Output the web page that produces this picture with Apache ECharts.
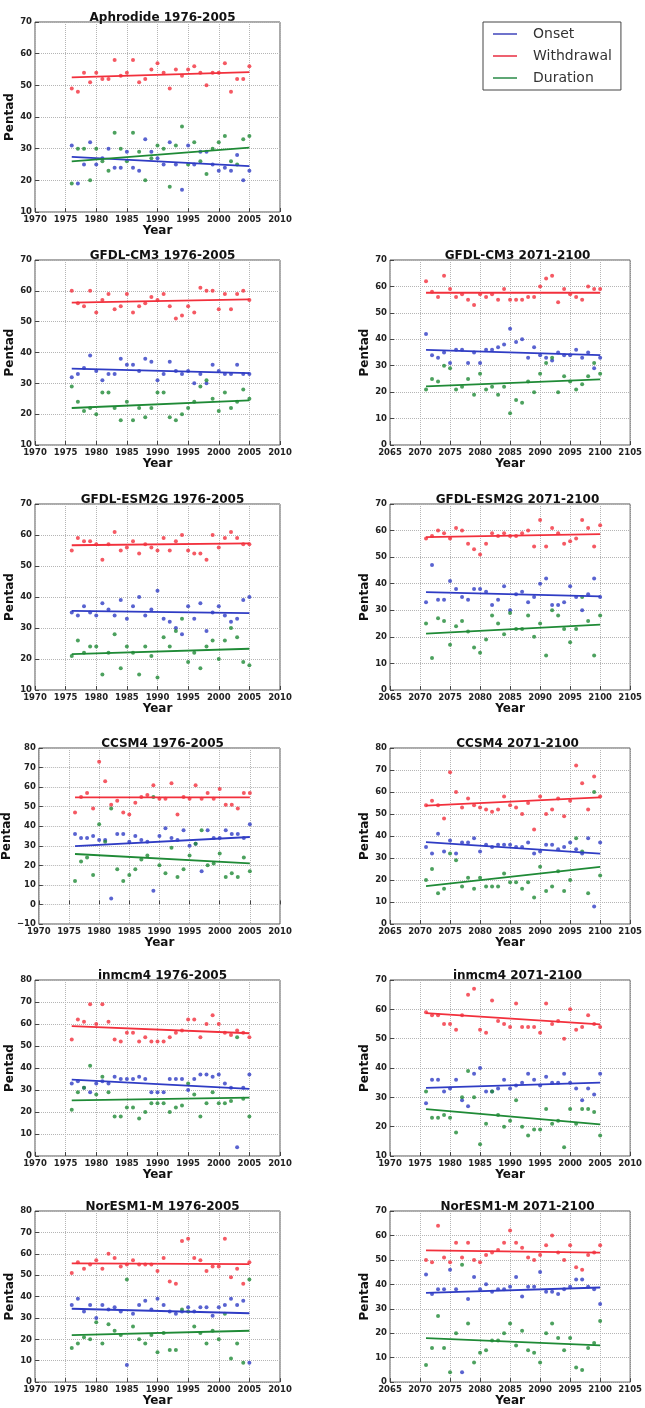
<!DOCTYPE html>
<html>
<head>
<meta charset="utf-8">
<script src="https://cdn.jsdelivr.net/npm/echarts@6/dist/echarts.min.js"></script>
<style>
  html, body { margin: 0; padding: 0; background: #fff; }
  #chart { width: 645px; height: 1408px; }
</style>
</head>
<body>
<div id="chart"></div>
<script>
const histYears = [1976, 1977, 1978, 1979, 1980, 1981, 1982, 1983, 1984, 1985, 1986, 1987, 1988, 1989, 1990,
  1991, 1992, 1993, 1994, 1995, 1996, 1997, 1998, 1999, 2000, 2001, 2002, 2003, 2004, 2005]
const futYears = [2071, 2072, 2073, 2074, 2075, 2076, 2077, 2078, 2079, 2080, 2081, 2082, 2083, 2084, 2085,
  2086, 2087, 2088, 2089, 2090, 2091, 2092, 2093, 2094, 2095, 2096, 2097, 2098, 2099, 2100]

// Aphrodide 1976-2005
const aphOnset = [31, 19, 25, 32, 25, 27, 30, 24, 24, 29, 24, 23, 33, 29, 27, 25, 32, 25, 17, 31, 25, 29, 29, 25, 23, 24, 23, 28, 20, 23]
const aphWithdrawal = [49, 48, 54, 51, 54, 52, 52, 58, 53, 54, 58, 51, 52, 55, 57, 54, 49, 55, 53, 55, 56, 54, 50, 54, 54, 57, 48, 52, 52, 56]
const aphDuration = [19, 30, 30, 20, 30, 26, 23, 35, 30, 26, 35, 29, 20, 27, 31, 30, 18, 31, 37, 25, 32, 26, 22, 30, 32, 34, 26, 25, 33, 34]
const aphTrend = [[27.4, 24.5], [52.5, 54.2], [26.0, 30.3]]

// GFDL-CM3 1976-2005
const cm3hOnset = [32, 33, 35, 39, 34, 31, 33, 33, 38, 36, 36, 34, 38, 37, 31, 33, 37, 34, 33, 34, 30, 33, 30, 36, 34, 33, 33, 36, 33, 33]
const cm3hWithdrawal = [60, 56, 55, 60, 53, 57, 59, 54, 55, 59, 53, 55, 56, 58, 57, 59, 55, 51, 52, 55, 53, 61, 60, 60, 54, 59, 54, 59, 60, 57]
const cm3hDuration = [29, 24, 21, 22, 20, 27, 27, 22, 18, 24, 18, 22, 19, 22, 27, 27, 19, 18, 20, 22, 24, 29, 31, 25, 21, 27, 22, 24, 28, 25]
const cm3hTrend = [[34.8, 33.3], [56.2, 57.2], [22.0, 24.5]]

// GFDL-CM3 2071-2100
const cm3fOnset = [42, 34, 33, 35, 31, 36, 36, 31, 35, 31, 36, 36, 37, 38, 44, 39, 40, 33, 37, 34, 33, 32, 35, 34, 34, 36, 33, 35, 29, 33]
const cm3fWithdrawal = [62, 58, 56, 64, 59, 56, 57, 55, 53, 57, 56, 57, 55, 59, 55, 55, 55, 56, 56, 60, 63, 64, 54, 59, 57, 56, 55, 60, 59, 59]
const cm3fDuration = [21, 25, 24, 30, 29, 21, 22, 25, 19, 27, 21, 22, 19, 22, 12, 17, 16, 24, 20, 27, 31, 33, 20, 26, 24, 21, 23, 26, 31, 27]
const cm3fTrend = [[36.0, 34.0], [57.6, 57.6], [22.2, 24.8]]

// GFDL-ESM2G 1976-2005
const esmhOnset = [35, 34, 37, 35, 34, 38, 36, 34, 39, 33, 37, 40, 34, 36, 42, 33, 32, 30, 28, 37, 33, 38, 29, 35, 37, 34, 32, 33, 39, 40]
const esmhWithdrawal = [55, 59, 58, 58, 57, 52, 57, 61, 55, 56, 58, 54, 57, 56, 55, 59, 55, 58, 60, 55, 54, 54, 52, 60, 56, 59, 61, 59, 57, 57]
const esmhDuration = [21, 26, 22, 24, 24, 15, 22, 28, 17, 24, 22, 15, 24, 21, 14, 27, 24, 29, 33, 19, 22, 17, 24, 26, 20, 26, 30, 27, 19, 18]
const esmhTrend = [[35.5, 34.8], [56.7, 57.3], [21.6, 23.3]]

// GFDL-ESM2G 2071-2100
const esmfOnset = [33, 47, 34, 34, 41, 38, 35, 34, 38, 38, 37, 32, 34, 39, 30, 36, 37, 33, 35, 40, 42, 32, 32, 33, 39, 35, 30, 36, 42, 35]
const esmfWithdrawal = [57, 58, 60, 59, 57, 61, 60, 55, 53, 51, 55, 59, 58, 59, 58, 58, 59, 60, 54, 64, 54, 61, 59, 55, 56, 57, 64, 61, 54, 62]
const esmfDuration = [25, 12, 27, 26, 17, 24, 26, 22, 16, 14, 19, 28, 25, 21, 29, 23, 23, 28, 20, 25, 13, 30, 28, 23, 18, 23, 35, 26, 13, 28]
const esmfTrend = [[36.8, 35.2], [57.5, 58.7], [21.2, 24.6]]

// CCSM4 1976-2005
const ccsmhOnset = [36, 34, 34, 35, 33, 33, 3, 36, 36, 32, 35, 33, 32, 7, 35, 39, 34, 33, 38, 30, 31, 17, 38, 34, 34, 38, 36, 36, 34, 41]
const ccsmhWithdrawal = [47, 55, 57, 49, 73, 63, 51, 53, 47, 46, 52, 55, 56, 61, 54, 54, 62, 46, 55, 54, 61, 54, 57, 54, 59, 51, 51, 49, 57, 57]
const ccsmhDuration = [12, 22, 24, 15, 41, 32, 49, 18, 12, 15, 18, 23, 25, 55, 20, 16, 29, 14, 18, 25, 31, 38, 20, 21, 26, 14, 16, 14, 24, 17]
const ccsmhTrend = [[29.8, 34.5], [54.8, 54.8], [25.8, 21.0]]

// CCSM4 2071-2100
const ccsmfOnset = [35, 32, 41, 33, 38, 32, 37, 37, 39, 33, 36, 35, 36, 36, 36, 35, 35, 37, 32, 33, 36, 36, 34, 35, 37, 34, 32, 39, 8, 37]
const ccsmfWithdrawal = [54, 56, 54, 48, 69, 60, 53, 57, 54, 53, 52, 51, 52, 58, 54, 53, 50, 55, 43, 58, 50, 52, 57, 49, 56, 72, 64, 52, 67, 58]
const ccsmfDuration = [20, 25, 14, 16, 32, 29, 17, 21, 16, 21, 17, 17, 17, 23, 19, 19, 16, 19, 12, 26, 15, 17, 24, 15, 20, 39, 33, 14, 60, 22]
const ccsmfTrend = [[37.2, 32.0], [53.8, 57.6], [17.2, 26.0]]

// inmcm4 1976-2005
const inmhOnset = [33, 34, 31, 29, 33, 34, 33, 36, 35, 35, 35, 36, 35, 29, 29, 29, 35, 35, 35, 30, 35, 37, 37, 36, 37, 33, 31, 4, 31, 37]
const inmhWithdrawal = [53, 62, 61, 69, 60, 69, 61, 53, 52, 56, 56, 52, 54, 52, 52, 52, 54, 56, 57, 62, 62, 54, 60, 64, 60, 56, 55, 57, 56, 54]
const inmhDuration = [21, 29, 31, 41, 28, 36, 29, 18, 18, 22, 22, 17, 20, 24, 24, 24, 20, 22, 23, 33, 28, 18, 24, 29, 24, 24, 25, 54, 26, 18]
const inmhTrend = [[34.7, 30.5], [59.0, 55.8], [25.3, 26.5]]

// inmcm4 2071-2100 (plotted on the 1970-2010 axis, as in the source figure)
const inmfOnset = [28, 36, 36, 32, 33, 36, 29, 27, 38, 40, 32, 32, 33, 36, 33, 34, 35, 38, 36, 34, 37, 35, 35, 38, 35, 33, 29, 33, 31, 38]
const inmfWithdrawal = [59, 58, 58, 55, 55, 53, 58, 65, 67, 53, 52, 63, 56, 55, 54, 62, 54, 54, 54, 52, 62, 55, 56, 50, 60, 53, 54, 58, 55, 54]
const inmfDuration = [32, 23, 23, 24, 23, 18, 30, 39, 30, 14, 21, 32, 24, 20, 22, 29, 20, 17, 19, 19, 26, 21, 22, 13, 26, 21, 26, 26, 25, 17]
const inmfTrend = [[33.2, 35.0], [58.7, 54.9], [26.0, 20.8]]

// NorESM1-M 1976-2005
const norhOnset = [36, 39, 33, 36, 30, 36, 34, 35, 33, 8, 32, 36, 38, 34, 39, 36, 33, 32, 33, 35, 33, 35, 35, 31, 35, 36, 39, 36, 38, 9]
const norhWithdrawal = [51, 56, 53, 55, 57, 53, 60, 58, 54, 55, 57, 55, 55, 55, 52, 58, 47, 46, 66, 67, 58, 57, 52, 54, 54, 67, 49, 53, 46, 56]
const norhDuration = [16, 18, 21, 20, 28, 18, 27, 24, 22, 48, 26, 20, 18, 22, 14, 23, 15, 15, 34, 33, 26, 23, 18, 24, 20, 32, 11, 18, 9, 48]
const norhTrend = [[34.3, 32.2], [55.5, 55.2], [22.0, 24.0]]

// NorESM1-M 2071-2100
const norfOnset = [44, 36, 38, 38, 46, 38, 4, 34, 43, 38, 40, 37, 38, 38, 39, 43, 35, 39, 39, 45, 37, 37, 36, 38, 39, 42, 42, 39, 38, 32]
const norfWithdrawal = [50, 49, 64, 51, 49, 57, 51, 57, 50, 49, 52, 53, 54, 57, 62, 57, 55, 51, 50, 52, 56, 60, 53, 50, 56, 47, 46, 52, 53, 56]
const norfDuration = [7, 14, 27, 14, 4, 20, 48, 24, 8, 12, 13, 17, 17, 20, 24, 15, 21, 13, 12, 8, 20, 24, 18, 13, 18, 6, 5, 14, 16, 25]
const norfTrend = [[36.5, 38.7], [53.9, 53.0], [18.0, 15.0]]

const seriesNames = ['Onset', 'Withdrawal', 'Duration']
const colors = ['#2f3cc4', '#f2303c', '#1f8a36']
const legendColors = ['#6f73cc', '#ee6170', '#5fa775']

const panels = [
  { title: 'Aphrodide 1976-2005', row: 0, col: 0, years: histYears, x: [1970, 2010], y: [10, 70],
    vals: [aphOnset, aphWithdrawal, aphDuration], trend: aphTrend },
  { title: 'GFDL-CM3 1976-2005', row: 1, col: 0, years: histYears, x: [1970, 2010], y: [10, 70],
    vals: [cm3hOnset, cm3hWithdrawal, cm3hDuration], trend: cm3hTrend },
  { title: 'GFDL-CM3 2071-2100', row: 1, col: 1, years: futYears, x: [2065, 2105], y: [0, 70],
    vals: [cm3fOnset, cm3fWithdrawal, cm3fDuration], trend: cm3fTrend },
  { title: 'GFDL-ESM2G 1976-2005', row: 2, col: 0, years: histYears, x: [1970, 2010], y: [10, 70],
    vals: [esmhOnset, esmhWithdrawal, esmhDuration], trend: esmhTrend },
  { title: 'GFDL-ESM2G 2071-2100', row: 2, col: 1, years: futYears, x: [2065, 2105], y: [0, 70],
    vals: [esmfOnset, esmfWithdrawal, esmfDuration], trend: esmfTrend },
  { title: 'CCSM4 1976-2005', row: 3, col: 0, years: histYears, x: [1970, 2010], y: [-10, 80],
    vals: [ccsmhOnset, ccsmhWithdrawal, ccsmhDuration], trend: ccsmhTrend },
  { title: 'CCSM4 2071-2100', row: 3, col: 1, years: futYears, x: [2065, 2105], y: [0, 80],
    vals: [ccsmfOnset, ccsmfWithdrawal, ccsmfDuration], trend: ccsmfTrend },
  { title: 'inmcm4 1976-2005', row: 4, col: 0, years: histYears, x: [1970, 2010], y: [0, 80],
    vals: [inmhOnset, inmhWithdrawal, inmhDuration], trend: inmhTrend },
  { title: 'inmcm4 2071-2100', row: 4, col: 1, years: histYears, x: [1970, 2010], y: [10, 70],
    vals: [inmfOnset, inmfWithdrawal, inmfDuration], trend: inmfTrend },
  { title: 'NorESM1-M 1976-2005', row: 5, col: 0, years: histYears, x: [1970, 2010], y: [0, 80],
    vals: [norhOnset, norhWithdrawal, norhDuration], trend: norhTrend },
  { title: 'NorESM1-M 2071-2100', row: 5, col: 1, years: futYears, x: [2065, 2105], y: [0, 70],
    vals: [norfOnset, norfWithdrawal, norfDuration], trend: norfTrend }
]

// layout (pixels)
const colLeft = [35, 390]
const plotWidth = 245
const rowTop = [22, 260, 504, 748, 980, 1211]
const rowHeight = [190, 185, 186, 176, 176, 177]
const font = 'DejaVu Sans'

// plain numbers, matplotlib style minus sign
const tickText = v => (v < 0 ? '\u2212' + Math.abs(v) : String(v))

const grids = [], xAxes = [], yAxes = [], titles = [], series = []

panels.forEach((p, i) => {
  const left = colLeft[p.col]
  const top = rowTop[p.row]
  grids.push({
    left: left, top: top, width: plotWidth, height: rowHeight[p.row],
    show: true, borderColor: '#555', borderWidth: 1
  })
  titles.push({
    text: p.title, left: left + plotWidth / 2, top: top - 15, textAlign: 'center',
    textStyle: { fontFamily: font, fontSize: 12, fontWeight: 'bold', color: '#111' }
  })
  xAxes.push({
    gridIndex: i, type: 'value', min: p.x[0], max: p.x[1], interval: 5,
    name: 'Year', nameLocation: 'middle', nameGap: 11,
    nameTextStyle: { fontFamily: font, fontSize: 12, fontWeight: 'bold', color: '#111' },
    axisLine: { show: false },
    axisTick: { show: true, inside: true, length: 4, lineStyle: { color: '#444' } },
    axisLabel: { fontFamily: font, fontSize: 8.5, fontWeight: 'bold', color: '#222', margin: 3, formatter: tickText },
    splitLine: { show: true, lineStyle: { type: 'dotted', color: '#b5b5b5' } }
  })
  yAxes.push({
    gridIndex: i, type: 'value', min: p.y[0], max: p.y[1], interval: 10,
    name: 'Pentad', nameLocation: 'middle', nameGap: 16, nameRotate: 90,
    nameTextStyle: { fontFamily: font, fontSize: 12, fontWeight: 'bold', color: '#111' },
    axisLine: { show: false },
    axisTick: { show: true, inside: true, length: 4, lineStyle: { color: '#444' } },
    axisLabel: { fontFamily: font, fontSize: 8.5, fontWeight: 'bold', color: '#222', margin: 3, formatter: tickText },
    splitLine: { show: true, lineStyle: { type: 'dotted', color: '#b5b5b5' } }
  })
  p.vals.forEach((arr, k) => {
    series.push({
      name: seriesNames[k] + ' points', type: 'scatter', xAxisIndex: i, yAxisIndex: i,
      symbolSize: 4, itemStyle: { color: colors[k] }, silent: true,
      data: p.years.map((yr, j) => [yr, arr[j]])
    })
  })
  p.trend.forEach((t, k) => {
    series.push({
      name: seriesNames[k], type: 'line', xAxisIndex: i, yAxisIndex: i,
      showSymbol: false, silent: true, z: 3,
      lineStyle: { color: colors[k], width: 1.8 }, itemStyle: { color: colors[k] },
      data: [[p.years[0], t[0]], [p.years[p.years.length - 1], t[1]]]
    })
  })
})

const chart = echarts.init(document.getElementById('chart'), null, { renderer: 'canvas' })
chart.setOption({
  animation: false,
  backgroundColor: '#fff',
  title: titles,
  legend: {
    orient: 'vertical', left: 483, top: 22,
    data: seriesNames.map((n, k) => ({ name: n, itemStyle: { color: legendColors[k] } })),
    icon: 'rect', itemWidth: 24, itemHeight: 2, itemGap: 6,
    padding: [4, 9, 4, 10],
    borderColor: '#444', borderWidth: 1, borderRadius: 0,
    selectedMode: false,
    textStyle: { fontFamily: font, fontSize: 14, color: '#333', lineHeight: 16, padding: [0, 0, 0, 11] }
  },
  grid: grids,
  xAxis: xAxes,
  yAxis: yAxes,
  series: series
})
</script>
</body>
</html>
